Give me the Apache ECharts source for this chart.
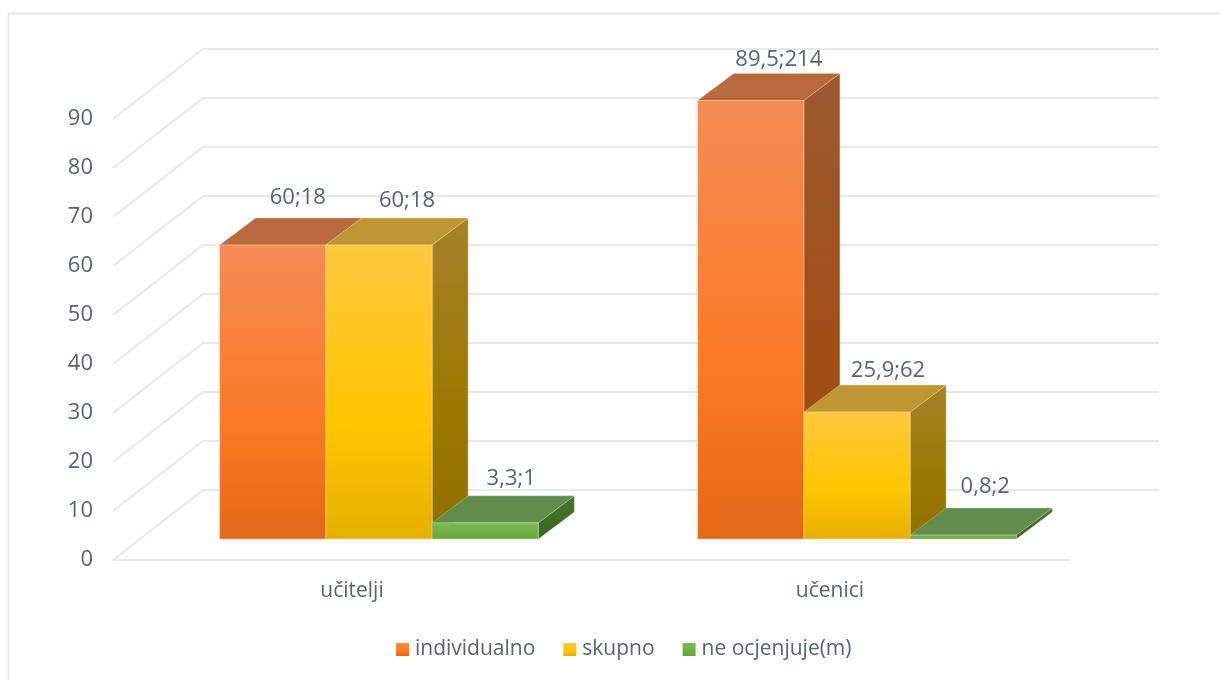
<!DOCTYPE html>
<html>
<head>
<meta charset="utf-8">
<title>individualno / skupno</title>
<style>
  html, body { margin: 0; padding: 0; background: #fff; }
  #chart { width: 1220px; height: 680px; }
</style>
<script src="https://cdn.jsdelivr.net/npm/echarts@6/dist/echarts.min.js"></script>
</head>
<body>
<div id="chart"></div>
<script>
const categories = ['učitelji', 'učenici']
const yTicks = [0, 10, 20, 30, 40, 50, 60, 70, 80, 90]

// percent values
const individualno = [60, 89.5]
const skupno = [60, 25.9]
const neOcjenjuje = [3.3, 0.8]

// respondent counts, shown after the semicolon in the labels
const individualnoN = [18, 214]
const skupnoN = [18, 62]
const neOcjenjujeN = [1, 2]

const TEXT = '#566377'
const LINE = '#e6e8ee'
const FONT = '"Open Sans", sans-serif'

// the fake 3D projection, in pixels
const WALL_DX = 90, WALL_DY = -70
const FLOOR_DX = 27, FLOOR_DY = -21
const BAR_DX = 36, BAR_DY = -27

// the labels were dragged by hand in the original, so each has its own shift
const labelShift = {
  individualno: [[7, -20], [10, -14]],
  skupno: [[10, -17], [13, -14]],
  neOcjenjuje: [[8, -17], [4, -21]]
}

function vGrad(a, b, c) {
  return new echarts.graphic.LinearGradient(0, 0, 0, 1, [
    { offset: 0, color: a }, { offset: 0.6, color: b }, { offset: 1, color: c }
  ])
}

const palettes = {
  individualno: {
    front: () => vGrad('#f48c55', '#fb7a25', '#e46816'),
    top: '#b8693e', side: () => vGrad('#9b5a32', '#a24e16', '#974a12'), edge: 'rgba(255,214,180,.55)'
  },
  skupno: {
    front: () => vGrad('#ffc83f', '#ffc600', '#e5b000'),
    top: '#bf9634', side: () => vGrad('#a5812a', '#9c7800', '#8f7000'), edge: 'rgba(255,236,170,.55)'
  },
  neOcjenjuje: {
    front: () => vGrad('#7db955', '#70ad47', '#66a832'),
    top: '#628c4b', side: () => vGrad('#4a7530', '#3f6b25', '#3a6420'), edge: 'rgba(210,235,190,.5)'
  }
}

function wallLines(params, api) {
  const cs = params.coordSys
  const y = api.coord([0, api.value(1)])[1]
  return {
    type: 'polyline',
    silent: true,
    shape: { points: [[cs.x, y], [cs.x + WALL_DX, y + WALL_DY], [cs.x + cs.width + WALL_DX, y + WALL_DY]] },
    style: { stroke: LINE, lineWidth: 2, fill: 'none' }
  }
}

function barRenderer(pal, slot, shifts) {
  return function (params, api) {
    const cat = api.value(0)
    const val = api.value(1)
    const band = api.size([1, 0])[0]
    const w = band / 4.5
    const top = api.coord([cat, val])
    const base = api.coord([cat, 0])
    const x0 = top[0] + (slot - 1.5) * w + FLOOR_DX
    const x1 = x0 + w
    const yT = top[1] + FLOOR_DY
    const yB = base[1] + FLOOR_DY
    const label = String(val).replace('.', ',') + ';' + api.value(2)
    return {
      type: 'group',
      children: [
        {
          type: 'polygon',
          shape: { points: [[x1, yT], [x1 + BAR_DX, yT + BAR_DY], [x1 + BAR_DX, yB + BAR_DY], [x1, yB]] },
          style: { fill: pal.side(), stroke: pal.edge, lineWidth: 0.6 }
        },
        {
          type: 'polygon',
          shape: { points: [[x0, yT], [x0 + BAR_DX, yT + BAR_DY], [x1 + BAR_DX, yT + BAR_DY], [x1, yT]] },
          style: { fill: pal.top, stroke: pal.edge, lineWidth: 0.6 }
        },
        {
          type: 'rect',
          shape: { x: x0, y: yT, width: w, height: yB - yT },
          style: { fill: pal.front(), stroke: pal.edge, lineWidth: 0.8 }
        },
        {
          type: 'text',
          style: {
            x: (x0 + x1 + BAR_DX) / 2 + shifts[cat][0], y: yT + BAR_DY + shifts[cat][1],
            text: label, fill: TEXT, font: '22px ' + FONT, align: 'center', verticalAlign: 'middle'
          }
        }
      ]
    }
  }
}

function barSeries(name, values, counts, pal, slot, shifts) {
  return {
    name: name,
    type: 'custom',
    coordinateSystem: 'cartesian2d',
    clip: false,
    z: 3 + slot,
    itemStyle: { color: pal.front() },
    encode: { x: 0, y: 1 },
    data: values.map((v, i) => [i, v, counts[i]]),
    renderItem: barRenderer(pal, slot, shifts)
  }
}

const chart = echarts.init(document.getElementById('chart'))

chart.setOption({
  animation: false,
  backgroundColor: '#fff',
  graphic: [{
    type: 'rect',
    silent: true,
    shape: { x: 8.5, y: 13.5, width: 1400, height: 900 },
    style: { fill: 'none', stroke: LINE, lineWidth: 2 }
  }],
  grid: { left: 113, right: 151, top: 119, bottom: 120 },
  xAxis: {
    type: 'category',
    data: categories,
    axisTick: { show: false },
    axisLine: { lineStyle: { color: LINE, width: 2 } },
    axisLabel: { color: TEXT, fontFamily: FONT, fontSize: 21, margin: 21 }
  },
  yAxis: {
    type: 'value',
    min: 0,
    max: 90,
    interval: 10,
    splitLine: { show: false },
    axisLine: { show: false },
    axisTick: { show: false },
    axisLabel: { color: TEXT, fontFamily: FONT, fontSize: 22, margin: 20, padding: [4, 0, 0, 0] }
  },
  legend: {
    data: ['individualno', 'skupno', 'ne ocjenjuje(m)'],
    left: 391,
    top: 634,
    icon: 'rect',
    itemWidth: 13,
    itemHeight: 13,
    itemGap: 28,
    textStyle: { color: TEXT, fontFamily: FONT, fontSize: 21, padding: [0, 0, 0, 1] }
  },
  series: [
    {
      name: 'walls',
      type: 'custom',
      coordinateSystem: 'cartesian2d',
      clip: false,
      silent: true,
      z: 1,
      encode: { x: 0, y: 1 },
      data: yTicks.map(v => [0, v]),
      renderItem: wallLines
    },
    barSeries('individualno', individualno, individualnoN, palettes.individualno, 0, labelShift.individualno),
    barSeries('skupno', skupno, skupnoN, palettes.skupno, 1, labelShift.skupno),
    barSeries('ne ocjenjuje(m)', neOcjenjuje, neOcjenjujeN, palettes.neOcjenjuje, 2, labelShift.neOcjenjuje)
  ]
})
</script>
</body>
</html>
